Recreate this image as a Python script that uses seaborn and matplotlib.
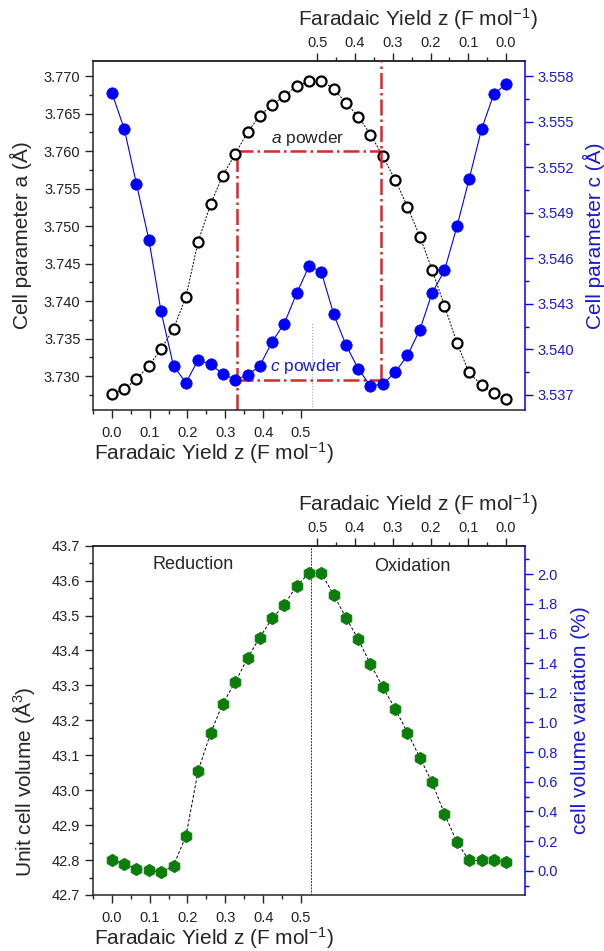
import matplotlib
matplotlib.use("Agg")
import matplotlib.pyplot as plt
from matplotlib.ticker import MultipleLocator, FixedLocator, FormatStrFormatter
import seaborn as sns
import pandas as pd

# reduction branch -> bottom axis, oxidation branch -> top axis (reversed)
z_red = [0.000, 0.033, 0.065, 0.098, 0.130, 0.163, 0.196, 0.228, 0.261, 0.293,
         0.326, 0.359, 0.391, 0.424, 0.456, 0.489, 0.522]
z_ox = [0.489, 0.456, 0.424, 0.391, 0.359, 0.326, 0.293, 0.261, 0.228, 0.196,
        0.163, 0.130, 0.098, 0.065, 0.033, 0.000]

a_red = [3.7276, 3.7283, 3.7296, 3.7314, 3.7336, 3.7363, 3.7406, 3.7479, 3.7529,
         3.7567, 3.7596, 3.7625, 3.7647, 3.7662, 3.7673, 3.7687, 3.7693]
a_ox = [3.7694, 3.7683, 3.7664, 3.7646, 3.7622, 3.7593, 3.7561, 3.7526, 3.7486,
        3.7442, 3.7394, 3.7344, 3.7305, 3.7288, 3.7277, 3.7269]
c_red = [3.5569, 3.5545, 3.5509, 3.5472, 3.5425, 3.5389, 3.5378, 3.5393, 3.5390,
         3.5384, 3.5380, 3.5383, 3.5389, 3.5405, 3.5417, 3.5437, 3.5455]
c_ox = [3.5451, 3.5423, 3.5403, 3.5387, 3.5376, 3.5377, 3.5385, 3.5396, 3.5413,
        3.5437, 3.5452, 3.5481, 3.5512, 3.5545, 3.5568, 3.5575]
v_red = [42.800, 42.790, 42.775, 42.771, 42.765, 42.784, 42.869, 43.055, 43.163,
         43.247, 43.309, 43.378, 43.437, 43.492, 43.530, 43.586, 43.621]
v_ox = [43.621, 43.559, 43.494, 43.432, 43.361, 43.295, 43.232, 43.165, 43.093,
        43.023, 42.932, 42.851, 42.799, 42.799, 42.801, 42.794]

a_powder = 3.760
c_powder = 3.538
z_powder = 0.33
z_peak = 0.53

bottom_ticks = [0.0, 0.1, 0.2, 0.3, 0.4, 0.5]
top_ticks = [0.5, 0.4, 0.3, 0.2, 0.1, 0.0]

X0 = 1.043  # bottom-axis position where the top (oxidation) axis reads 0

sns.set_style("ticks")
plt.rcParams["font.family"] = ["Liberation Sans", "DejaVu Sans"]
plt.rcParams["mathtext.fontset"] = "custom"
plt.rcParams["mathtext.rm"] = "Liberation Sans"
plt.rcParams["mathtext.it"] = "Liberation Sans:italic"
plt.rcParams["axes.linewidth"] = 1.1

BLUE = "#0000ff"
BLUE_TXT = "#1a1ad0"
RED = "#d42a2a"
GREEN = "#0a7d0a"
TICK_TXT = "#222222"

df = pd.DataFrame({
    "pos": z_red + [X0 - z for z in z_ox],
    "a": a_red + a_ox,
    "c": c_red + c_ox,
    "V": v_red + v_ox,
})

xlab = "Faradaic Yield z (F mol$^{-1}$)"


def flip(x):
    return X0 - x


def style_x(ax, top_y, bottom_y):
    ax.set_xlim(-0.05, 1.093)
    ax.xaxis.set_major_locator(FixedLocator(bottom_ticks))
    ax.xaxis.set_minor_locator(FixedLocator([-0.05, 0.05, 0.15, 0.25, 0.35, 0.45]))
    ax.xaxis.set_major_formatter(FormatStrFormatter("%.1f"))
    ax.tick_params(axis="x", which="major", length=5.5, width=1, labelsize=10.5,
                   labelcolor=TICK_TXT, pad=6)
    ax.tick_params(axis="x", which="minor", length=3, width=1)
    ax.set_xlabel(xlab, fontsize=15)
    ax.xaxis.set_label_coords(0.28, bottom_y)
    sec = ax.secondary_xaxis("top", functions=(flip, flip))
    sec.xaxis.set_major_locator(FixedLocator(top_ticks))
    sec.xaxis.set_minor_locator(FixedLocator([0.45, 0.35, 0.25, 0.15, 0.05]))
    sec.xaxis.set_major_formatter(FormatStrFormatter("%.1f"))
    sec.tick_params(axis="x", which="major", length=5.5, width=1, labelsize=10.5,
                    labelcolor=TICK_TXT, pad=2.5)
    sec.tick_params(axis="x", which="minor", length=3, width=1)
    sec.set_xlabel(xlab, fontsize=15)
    sec.xaxis.set_label_coords(0.751, top_y, transform=ax.transAxes)
    return sec


fig = plt.figure(figsize=(6.04, 9.51), dpi=100)

# ---------------- top panel: lattice parameters ----------------
ax1 = fig.add_axes([93 / 604, 1 - 410 / 951, 432 / 604, 349 / 951])
ax2 = ax1.twinx()

sns.lineplot(data=df, x="pos", y="a", ax=ax1, color="black", lw=0.7,
             linestyle=(0, (2, 1.5)), marker="o", markersize=7.2,
             markerfacecolor="white", markeredgecolor="black",
             markeredgewidth=1.6, zorder=3)
sns.lineplot(data=df, x="pos", y="c", ax=ax2, color=BLUE, lw=0.8,
             marker="o", markersize=8.2, markerfacecolor=BLUE,
             markeredgecolor=BLUE, markeredgewidth=0.5, zorder=3)

ax1.set_ylim(3.7255, 3.772)
ax2.set_ylim(3.536, 3.559)

# powder reference lines
ax1.plot([z_powder, z_powder], [3.7255, a_powder], color=RED, lw=1.8,
         linestyle="-.", zorder=2)
ax1.plot([z_powder, X0 - z_powder], [a_powder, a_powder], color=RED, lw=1.8,
         linestyle="-.", zorder=2)
ax2.plot([z_powder, X0 - z_powder], [c_powder, c_powder], color=RED, lw=1.8,
         linestyle="-.", zorder=2)
ax2.plot([X0 - z_powder, X0 - z_powder], [c_powder, 3.559], color=RED, lw=1.8,
         linestyle="-.", zorder=2)
ax1.plot([z_peak, z_peak], [3.7255, 3.7372], color="#aaaaaa", lw=0.8,
         linestyle=":", zorder=1)

ax1.text(0.517, a_powder + 0.0004, "$\\it{a}$ powder", ha="center", va="bottom",
         fontsize=12.5)
ax2.text(0.515, c_powder + 0.00025, "$\\it{c}$ powder", ha="center", va="bottom",
         fontsize=12.5, color=BLUE_TXT)

ax1.yaxis.set_major_locator(MultipleLocator(0.005))
ax1.yaxis.set_minor_locator(MultipleLocator(0.0025))
ax1.yaxis.set_major_formatter(FormatStrFormatter("%.3f"))
ax1.tick_params(axis="y", which="major", length=5.5, width=1, labelsize=10.5,
                labelcolor=TICK_TXT)
ax1.tick_params(axis="y", which="minor", length=3, width=1)
ax1.set_ylabel("Cell parameter a (Å)", fontsize=15)
ax1.yaxis.set_label_coords(-0.141, 0.5)

ax2.yaxis.set_major_locator(FixedLocator([3.537, 3.540, 3.543, 3.546, 3.549, 3.552, 3.555, 3.558]))
ax2.yaxis.set_minor_locator(FixedLocator([3.5385, 3.5415, 3.5445, 3.5475, 3.5505, 3.5535, 3.5565]))
ax2.yaxis.set_major_formatter(FormatStrFormatter("%.3f"))
ax2.tick_params(axis="y", which="both", colors=BLUE, width=1)
ax2.tick_params(axis="y", which="major", length=5.5, labelsize=10.5, labelcolor=BLUE_TXT)
ax2.tick_params(axis="y", which="minor", length=3)
ax2.set_ylabel("Cell parameter c (Å)", fontsize=15, color=BLUE_TXT)
ax2.yaxis.set_label_coords(1.133, 0.5)
ax2.spines["right"].set_color(BLUE)
for s in ["left", "top", "bottom"]:
    ax2.spines[s].set_visible(False)
ax1.spines["right"].set_visible(False)

style_x(ax1, 1.100, -0.085)

# ---------------- bottom panel: unit-cell volume ----------------
ax3 = fig.add_axes([93 / 604, 1 - 895 / 951, 432 / 604, 349.3 / 951])
ax4 = ax3.twinx()

sns.lineplot(data=df, x="pos", y="V", ax=ax3, color="black", lw=0.7,
             linestyle=(0, (3, 2)), marker="h", markersize=9,
             markerfacecolor=GREEN, markeredgecolor=GREEN,
             markeredgewidth=0.5, zorder=3)
ax3.axvline(z_peak - 0.002, color="#333333", lw=0.7, linestyle=(0, (2, 1.2)), zorder=1)

ax3.set_ylim(42.7, 43.7)
ax3.yaxis.set_major_locator(MultipleLocator(0.1))
ax3.yaxis.set_minor_locator(MultipleLocator(0.05))
ax3.yaxis.set_major_formatter(FormatStrFormatter("%.1f"))
ax3.tick_params(axis="y", which="major", length=5.5, width=1, labelsize=10.5,
                labelcolor=TICK_TXT)
ax3.tick_params(axis="y", which="minor", length=3, width=1)
ax3.set_ylabel("Unit cell volume (Å$^{3}$)", fontsize=15)
ax3.yaxis.set_label_coords(-0.130, 0.324)

ax4.set_ylim(-0.164, 2.191)
ax4.yaxis.set_major_locator(MultipleLocator(0.2))
ax4.yaxis.set_minor_locator(MultipleLocator(0.1))
ax4.yaxis.set_major_formatter(FormatStrFormatter("%.1f"))
ax4.tick_params(axis="y", which="both", colors=BLUE, width=1)
ax4.tick_params(axis="y", which="major", length=5.5, labelsize=10.5, labelcolor=BLUE_TXT)
ax4.tick_params(axis="y", which="minor", length=3)
ax4.set_ylabel("cell volume variation (%)", fontsize=15, color=BLUE_TXT)
ax4.yaxis.set_label_coords(1.106, 0.5)
ax4.spines["right"].set_color(BLUE)
for s in ["left", "top", "bottom"]:
    ax4.spines[s].set_visible(False)
ax3.spines["right"].set_visible(False)

ax3.text(0.215, 43.645, "Reduction", ha="center", va="center", fontsize=13)
ax3.text(0.794, 43.64, "Oxidation", ha="center", va="center", fontsize=13)

style_x(ax3, 1.100, -0.086)

fig.savefig("out.png", dpi=100)
